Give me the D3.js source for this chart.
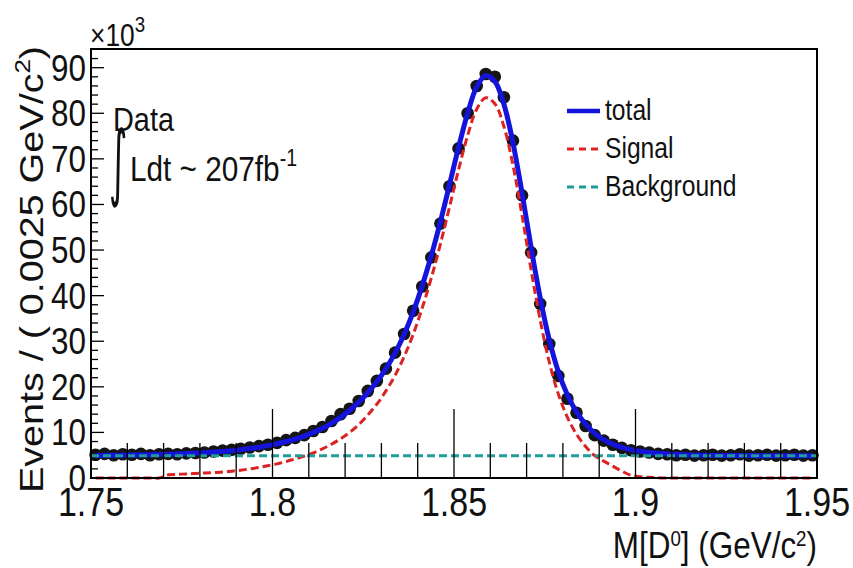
<!DOCTYPE html>
<html>
<head>
<meta charset="utf-8">
<script src="https://cdn.jsdelivr.net/npm/d3@7"></script>
<style>
  body { margin: 0; background: #fff; }
  svg { display: block; font-family: "Liberation Sans", Arial, sans-serif; }
</style>
</head>
<body>
<div id="chart"></div>
<script>
// bins of 0.0025 GeV/c^2 from 1.75 to 1.95, values in units of 10^3 events
var binLow = 1.75, binWidth = 0.0025;
var dataCounts = [
  5.1, 5.3, 5.0, 5.2, 5.1, 5.3, 5.0, 5.2, 5.3, 5.2,
  5.4, 5.5, 5.6, 5.8, 6.0, 6.2, 6.4, 6.7, 7.0, 7.3,
  7.7, 8.3, 8.8, 9.4, 10.3, 11.2, 12.5, 14.0, 15.2, 16.9,
  19.1, 21.3, 24.0, 27.5, 31.6, 36.7, 42.0, 48.4, 55.8, 64.0,
  72.3, 80.0, 86.0, 88.6, 88.0, 83.5, 74.0, 62.0, 49.5, 38.2,
  29.4, 22.4, 17.4, 14.3, 11.4, 9.4, 8.2, 7.3, 6.6, 6.1,
  5.8, 5.6, 5.3, 5.2, 5.0, 5.1, 4.9, 5.0, 5.1, 4.9,
  5.0, 5.2, 4.9, 5.0, 5.1, 4.9, 5.0, 5.1, 4.9, 5.0
];
var totalFit = [
  4.95, 4.97, 5.0, 5.02, 5.05, 5.08, 5.12, 5.17, 5.22, 5.28,
  5.35, 5.45, 5.55, 5.68, 5.83, 6.0, 6.2, 6.45, 6.75, 7.1,
  7.5, 8.0, 8.55, 9.2, 10.0, 10.9, 12.0, 13.3, 14.8, 16.6,
  18.7, 21.1, 24.0, 27.4, 31.5, 36.4, 42.2, 48.8, 56.2, 64.3,
  72.5, 80.0, 85.8, 88.3, 87.0, 82.0, 73.5, 62.5, 50.5, 39.5,
  30.3, 23.3, 18.2, 14.5, 11.8, 9.8, 8.4, 7.4, 6.7, 6.2,
  5.85, 5.6, 5.42, 5.28, 5.18, 5.1, 5.05, 5.0, 4.97, 4.95,
  4.93, 4.92, 4.91, 4.9, 4.9, 4.89, 4.89, 4.88, 4.88, 4.88
];
var signalFit = [
  0.0, 0.0, 0.0, 0.0, 0.0, 0.0, 0.0, 0.0, 0.7, 0.8,
  0.9, 1.0, 1.1, 1.2, 1.3, 1.5, 1.7, 2.0, 2.3, 2.7,
  3.1, 3.6, 4.2, 4.8, 5.5, 6.4, 7.4, 8.6, 10.0, 11.7,
  13.8, 16.2, 19.1, 22.5, 26.6, 31.5, 37.3, 43.9, 51.3, 59.4,
  67.6, 75.1, 80.9, 83.4, 82.1, 77.1, 68.6, 57.6, 45.6, 34.6,
  25.4, 18.4, 13.3, 9.6, 6.9, 4.9, 3.7, 2.6, 1.5, 0.6,
  0.3, 0.15, 0.05, 0.0, 0.0, 0.0, 0.0, 0.0, 0.0, 0.0,
  0.0, 0.0, 0.0, 0.0, 0.0, 0.0, 0.0, 0.0, 0.0, 0.0
];
var backgroundLevel = [4.9, 4.9];
var backgroundX = [1.75, 1.95];

var xMajorTicks = [1.75, 1.8, 1.85, 1.9, 1.95];
var xTickLabels = ['1.75', '1.8', '1.85', '1.9', '1.95'];
var yMajorTicks = [0, 10, 20, 30, 40, 50, 60, 70, 80, 90];

var legendItems = ['total', 'Signal', 'Background'];

var width = 853, height = 568;
var frame = { left: 91, right: 817, top: 49, bottom: 478 };
var squeeze = 0.85;   // the picture is narrower than its text

var svg = d3.select('#chart').append('svg')
  .attr('width', width)
  .attr('height', height);

var x = d3.scaleLinear().domain([1.75, 1.95]).range([frame.left, frame.right]);
var y = d3.scaleLinear().domain([0, 94.1]).range([frame.bottom, frame.top]);

var binCenters = dataCounts.map(function(d, i) { return binLow + (i + 0.5) * binWidth; });

// data points
svg.append('g')
  .selectAll('circle')
  .data(dataCounts)
  .enter().append('circle')
  .attr('cx', function(d, i) { return x(binCenters[i]); })
  .attr('cy', function(d) { return y(d); })
  .attr('r', 6.3)
  .attr('fill', '#151515');

var line = d3.line()
  .x(function(d) { return x(d[0]); })
  .y(function(d) { return y(d[1]); })
  .curve(d3.curveCatmullRom);

function pairs(xs, ys) {
  return ys.map(function(v, i) { return [xs[i], v]; });
}

svg.append('path')
  .datum(pairs(binCenters, totalFit))
  .attr('d', line)
  .attr('fill', 'none')
  .attr('stroke', '#1414dc')
  .attr('stroke-width', 5);

svg.append('path')
  .datum(pairs(binCenters, signalFit))
  .attr('d', line)
  .attr('fill', 'none')
  .attr('stroke', '#dc2222')
  .attr('stroke-width', 3)
  .attr('stroke-dasharray', '8,4');

svg.append('path')
  .datum(pairs(backgroundX, backgroundLevel))
  .attr('d', line)
  .attr('fill', 'none')
  .attr('stroke', '#1f9c9c')
  .attr('stroke-width', 3)
  .attr('stroke-dasharray', '8,4');

// x ticks: tall lines rising from the bottom edge
var xMinor = d3.range(1.76, 1.95, 0.01).filter(function(v) {
  return Math.abs(Math.round(v * 20) - v * 20) > 1e-6;
});
svg.append('g').selectAll('line.minor')
  .data(xMinor)
  .enter().append('line')
  .attr('x1', function(d) { return x(d); })
  .attr('x2', function(d) { return x(d); })
  .attr('y1', frame.bottom)
  .attr('y2', frame.bottom - 35)
  .attr('stroke', '#000')
  .attr('stroke-width', 1.3);
svg.append('g').selectAll('line.major')
  .data(xMajorTicks.slice(1, -1))
  .enter().append('line')
  .attr('x1', function(d) { return x(d); })
  .attr('x2', function(d) { return x(d); })
  .attr('y1', frame.bottom)
  .attr('y2', frame.bottom - 69)
  .attr('stroke', '#000')
  .attr('stroke-width', 1.3);

// y ticks
var yMinor = d3.range(0, 94, 2);
svg.append('g').selectAll('line')
  .data(yMinor)
  .enter().append('line')
  .attr('x1', frame.left)
  .attr('x2', function(d) { return frame.left + (d % 10 === 0 ? 13 : 7); })
  .attr('y1', function(d) { return y(d); })
  .attr('y2', function(d) { return y(d); })
  .attr('stroke', '#000')
  .attr('stroke-width', 1.3);

// frame
svg.append('rect')
  .attr('x', frame.left)
  .attr('y', frame.top)
  .attr('width', frame.right - frame.left)
  .attr('height', frame.bottom - frame.top)
  .attr('fill', 'none')
  .attr('stroke', '#000')
  .attr('stroke-width', 2);

function squeezedText(g, px, py, size, anchor) {
  return g.append('text')
    .attr('transform', 'translate(' + px + ',' + py + ') scale(' + squeeze + ',1)')
    .attr('font-size', size)
    .attr('text-anchor', anchor)
    .attr('fill', '#111');
}

// tick labels
xMajorTicks.forEach(function(v, i) {
  squeezedText(svg, x(v), 516, 40, 'middle').text(xTickLabels[i]);
});
yMajorTicks.forEach(function(v) {
  squeezedText(svg, 86, y(v) + 13, 37, 'end').text(v);
});

// x10^3
var mult = squeezedText(svg, 90, 46, 31, 'start');
mult.append('tspan').text('\u00d710');
mult.append('tspan').attr('dy', -14).attr('font-size', 22).text('3');

// axis titles
var xt = squeezedText(svg, 817, 558, 37, 'end');
xt.append('tspan').text('M[D');
xt.append('tspan').attr('dy', -12).attr('font-size', 22).text('0');
xt.append('tspan').attr('dy', 12).text('] (GeV/c');
xt.append('tspan').attr('dy', -12).attr('font-size', 22).text('2');
xt.append('tspan').attr('dy', 12).text(')');

var yt = svg.append('text')
  .attr('transform', 'translate(43,46) rotate(-90) scale(1.04,' + squeeze + ')')
  .attr('font-size', 38)
  .attr('text-anchor', 'end')
  .attr('fill', '#111');
yt.append('tspan').text('Events / ( 0.0025 GeV/c');
yt.append('tspan').attr('dy', -15).attr('font-size', 25).text('2');
yt.append('tspan').attr('dy', 15).text(')');

// annotation
squeezedText(svg, 113, 131, 34, 'start').text('Data');
svg.append('text')
  .attr('transform', 'translate(109,190) scale(0.55,1.3)')
  .attr('font-family', 'DejaVu Sans')
  .attr('font-size', 64)
  .attr('fill', '#111')
  .text('\u222b');
var lum = squeezedText(svg, 130, 181, 35, 'start');
lum.append('tspan').text('Ldt ~ 207fb');
lum.append('tspan').attr('dy', -15).attr('font-size', 23).text('-1');

// legend
var legendY = [111, 149, 187];
var legendStyle = [
  { stroke: '#1414dc', width: 4.5, dash: null },
  { stroke: '#dc2222', width: 3, dash: '7,5' },
  { stroke: '#1f9c9c', width: 3, dash: '7,5' }
];
legendItems.forEach(function(name, i) {
  var s = legendStyle[i];
  svg.append('line')
    .attr('x1', 567).attr('x2', 600)
    .attr('y1', legendY[i]).attr('y2', legendY[i])
    .attr('stroke', s.stroke)
    .attr('stroke-width', s.width)
    .attr('stroke-dasharray', s.dash);
  squeezedText(svg, 605, legendY[i] + 9, 29, 'start').text(name);
});
</script>
</body>
</html>
